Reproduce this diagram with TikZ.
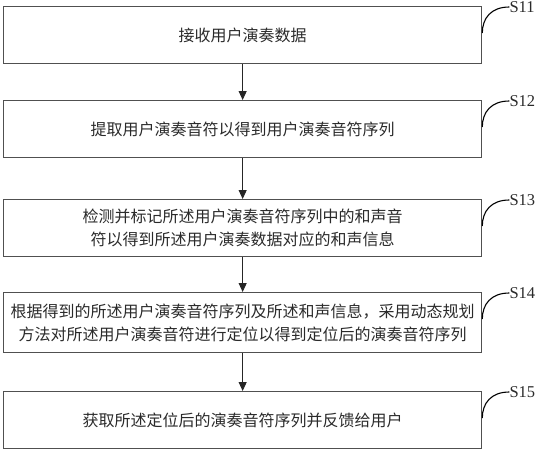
\documentclass[tikz,border=0pt]{standalone}
\usepackage{fontspec}
\setmainfont{Liberation Serif}
\newfontfamily\cjk{Noto Sans CJK SC}
\usetikzlibrary{arrows.meta}
\definecolor{boxline}{HTML}{505050}
\definecolor{txt}{HTML}{2A2A2A}
\tikzset{
  stepbox/.style={draw=boxline, line width=1.3pt, minimum width=478pt, inner sep=0pt, anchor=north west,
    font=\cjk\fontsize{16}{22.5}\selectfont, text=txt, align=center},
  flow/.style={draw=black!85, line width=1pt, -{Triangle[length=9pt,width=8pt]}},
  lead/.style={draw=black, line width=1.1pt},
  steplabel/.style={font=\fontsize{16.5}{18}\selectfont, text=txt, anchor=west, inner sep=0pt}
}
\begin{document}
\begin{tikzpicture}[x=1pt,y=-1pt]
\useasboundingbox (0,0) rectangle (536,450);
\node[stepbox, minimum height=57pt] (b1) at (3,6) {接收用户演奏数据};
\node[stepbox, minimum height=57pt] (b2) at (3,100) {提取用户演奏音符以得到用户演奏音符序列};
\node[stepbox, minimum height=57pt] (b3) at (3,199) {检测并标记所述用户演奏音符序列中的和声音\\符以得到所述用户演奏数据对应的和声信息};
\node[stepbox, minimum height=60pt] (b4) at (3,292) {根据得到的所述用户演奏音符序列及所述和声信息，采用动态规划\\方法对所述用户演奏音符进行定位以得到定位后的演奏音符序列};
\node[stepbox, minimum height=57pt] (b5) at (3,391) {获取所述定位后的演奏音符序列并反馈给用户};
\draw[flow] (b1.south) -- (b2.north);
\draw[flow] (b2.south) -- (b3.north);
\draw[flow] (b3.south) -- (b4.north);
\draw[flow] (b4.south) -- (b5.north);
\foreach \b/\s in {b1/S11,b2/S12,b3/S13,b4/S14,b5/S15}{
  \coordinate (\b e) at ([yshift=-27pt]\b.north east);
  \node[steplabel] (\b l) at ([xshift=27pt,yshift=-1pt]\b.north east) {\s};
  \draw[lead] (\b e) .. controls ([yshift=-12pt]\b.north east) and ([xshift=9pt,yshift=-1pt]\b.north east) .. (\b l.west);
}
\end{tikzpicture}
\end{document}
